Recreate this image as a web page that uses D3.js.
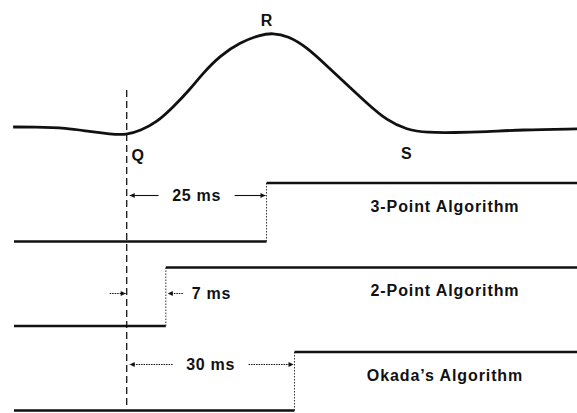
<!DOCTYPE html>
<html>
<head>
<meta charset="utf-8">
<script src="https://cdn.jsdelivr.net/npm/d3@7"></script>
<style>
body { margin: 0; background: #fff; }
text { font-family: "Liberation Sans", Arial, sans-serif; font-weight: bold; fill: #111; }
</style>
</head>
<body>
<svg width="577" height="413"></svg>
<script>
// ECG trace: time in ms relative to Q, amplitude normalised to the R peak
var ecgTime = [-20.3, -16.7, -10.7, -6.6, -3.0, 0, 2.4, 5.4, 8.3, 11.3, 13.6, 16.7, 20.3, 23.8, 26.1,
               28.8, 32.2, 35.8, 39.4, 43.0, 46.5, 50.1, 53.7, 58.5, 64.4, 70.3, 80.5];
var ecgAmp = [0, 0, -0.01, -0.05, -0.075, -0.085, -0.04, 0.05, 0.21, 0.40, 0.57, 0.76, 0.90, 0.98, 1.0,
              0.97, 0.85, 0.65, 0.45, 0.25, 0.07, -0.03, -0.06, -0.06, -0.05, -0.03, -0.02];

var waveNames = ["Q", "R", "S"];
var waveTimes = [0, 25, 50];

// detection of the R wave by each algorithm
var algorithms = ["3-Point Algorithm", "2-Point Algorithm", "Okada\u2019s Algorithm"];
var delays = [25, 7, 30];
var delayLabels = ["25 ms", "7 ms", "30 ms"];

var svg = d3.select("svg");

var x = d3.scaleLinear().domain([-20.5, 80.5]).range([12, 577]);
var yEcg = d3.scaleLinear().domain([0, 1]).range([127, 33]);
var row = d3.scaleBand().domain(algorithms).range([183, 183 + 3 * 84.5]);
var yStep = function(name, level) { return row(name) + (1 - level) * 58.5; };

// arrow heads
var defs = svg.append("defs");
defs.append("marker")
    .attr("id", "head")
    .attr("viewBox", "0 0 10 10")
    .attr("refX", 10).attr("refY", 5)
    .attr("markerWidth", 7).attr("markerHeight", 5)
    .attr("markerUnits", "userSpaceOnUse")
    .attr("orient", "auto-start-reverse")
    .append("path")
    .attr("d", "M0,0L10,5L0,10Z")
    .attr("fill", "#111");

// Q reference line
svg.append("line")
    .attr("x1", x(0)).attr("x2", x(0))
    .attr("y1", 90).attr("y2", 405)
    .attr("stroke", "#222")
    .attr("stroke-width", 1.4)
    .attr("stroke-dasharray", "7,4");

// ECG
var ecgLine = d3.line()
    .x(function(d) { return x(d[0]); })
    .y(function(d) { return yEcg(d[1]); })
    .curve(d3.curveBasis);

svg.append("path")
    .datum(d3.zip(ecgTime, ecgAmp))
    .attr("d", ecgLine)
    .attr("fill", "none")
    .attr("stroke", "#111")
    .attr("stroke-width", 2.8)
    .attr("stroke-linejoin", "round");

var waveDx = [11, 0, 0];
var waveY = [155, 20, 153];
svg.selectAll(".wave")
    .data(waveNames)
    .enter().append("text")
    .attr("class", "wave")
    .attr("x", function(d, i) { return x(waveTimes[i]) + waveDx[i]; })
    .attr("y", function(d, i) { return waveY[i]; })
    .attr("dy", "0.36em")
    .attr("text-anchor", "middle")
    .style("font-size", "16px")
    .text(function(d) { return d; });

// step outputs
var t0 = x.domain()[0], t1 = x.domain()[1];

algorithms.forEach(function(name, i) {
    var d = delays[i];
    var g = svg.append("g");

    g.append("line")
        .attr("x1", x(t0) + 2).attr("x2", x(d))
        .attr("y1", yStep(name, 0)).attr("y2", yStep(name, 0))
        .attr("stroke", "#111").attr("stroke-width", 2.4);
    g.append("line")
        .attr("x1", x(d)).attr("x2", x(d))
        .attr("y1", yStep(name, 0)).attr("y2", yStep(name, 1))
        .attr("stroke", "#333").attr("stroke-width", 1)
        .attr("stroke-dasharray", "1.5,1.5");
    g.append("line")
        .attr("x1", x(d)).attr("x2", x(t1))
        .attr("y1", yStep(name, 1)).attr("y2", yStep(name, 1))
        .attr("stroke", "#111").attr("stroke-width", 2.6);

    g.append("text")
        .attr("x", 445)
        .attr("y", yStep(name, 1) + 23)
        .attr("dy", "0.36em")
        .attr("text-anchor", "middle")
        .style("font-size", "16px")
        .style("letter-spacing", "0.9px")
        .text(name);

    if (d > 15) {
        // label between Q and detection point
        var cx = (x(0) + x(d)) / 2;
        var ya = yStep(name, 1) + 12.5;
        var dash = i === 2 ? "1.5,1" : null;
        g.append("text")
            .attr("x", cx).attr("y", ya)
            .attr("dy", "0.36em")
            .attr("text-anchor", "middle")
            .style("font-size", "16px")
            .style("letter-spacing", "0.7px")
            .text(delayLabels[i]);
        g.append("line")
            .attr("x1", cx - 38).attr("x2", x(0) + 3)
            .attr("y1", ya).attr("y2", ya)
            .attr("stroke", "#111").attr("stroke-width", 1.1)
            .attr("stroke-dasharray", dash)
            .attr("marker-end", "url(#head)");
        g.append("line")
            .attr("x1", cx + 38).attr("x2", x(d) - 1)
            .attr("y1", ya).attr("y2", ya)
            .attr("stroke", "#111").attr("stroke-width", 1.1)
            .attr("stroke-dasharray", dash)
            .attr("marker-end", "url(#head)");
    } else {
        // gap too narrow, arrows point in from outside
        var yb = yStep(name, 1) + 26;
        g.append("line")
            .attr("x1", x(0) - 17).attr("x2", x(0) - 1)
            .attr("y1", yb).attr("y2", yb)
            .attr("stroke", "#111").attr("stroke-width", 1.1)
            .attr("stroke-dasharray", "1.5,1")
            .attr("marker-end", "url(#head)");
        g.append("line")
            .attr("x1", x(d) + 17).attr("x2", x(d) + 2)
            .attr("y1", yb).attr("y2", yb)
            .attr("stroke", "#111").attr("stroke-width", 1.1)
            .attr("stroke-dasharray", "1.5,1")
            .attr("marker-end", "url(#head)");
        g.append("text")
            .attr("x", x(d) + 26).attr("y", yb)
            .attr("dy", "0.36em")
            .style("font-size", "16px")
            .style("letter-spacing", "0.7px")
            .text(delayLabels[i]);
    }
});
</script>
</body>
</html>
